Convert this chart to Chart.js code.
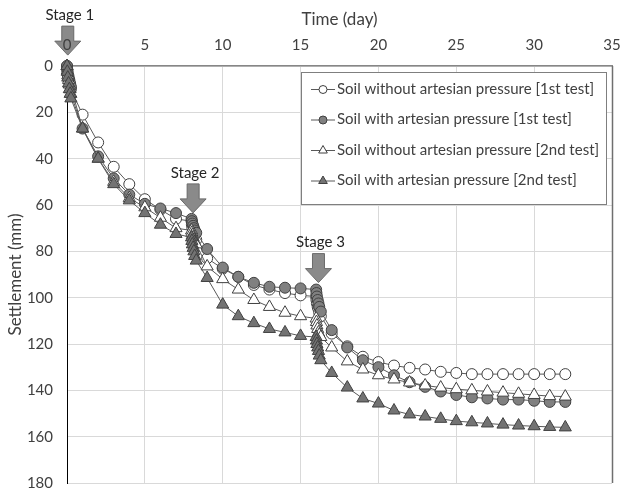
<!DOCTYPE html>
<html><head><meta charset="utf-8">
<script src="https://cdn.jsdelivr.net/npm/chart.js@4.4.1/dist/chart.umd.min.js"></script>
<style>html,body{margin:0;padding:0;background:#fff;}#wrap{width:622px;height:493px;position:relative;}</style>
</head><body><div id="wrap"><canvas id="c" width="622" height="493"></canvas></div>
<script>
const days = [0,0.02,0.05,0.1,0.15,0.2,0.25, 1,2,3,4,5,6,7, 8,8.02,8.05,8.1,8.15,8.2,8.3, 9,10,11,12,13,14,15, 16,16.02,16.05,16.1,16.15,16.2,16.3, 17,18,19,20,21,22,23,24,25,26,27,28,29,30,31,32];
const withoutArtesian1 = [0,2,4,5.5,7,8.5,10, 21,33,43.5,51,57.5,62,66, 67,68.5,70,71.5,73,74,75, 83,87.5,91,94.5,96.5,98,99, 99.5,101,102.5,104,105,106.5,108, 115.5,121,125.5,127.8,129.3,130.3,131,132,132.5,133,133,133,133,133,133,133];
const withArtesian1 = [0,1.5,3,4.5,6,7.5,9, 27,39,48.5,55.5,59.5,61.5,63.5, 66,67,68,69,70,71,72, 79,87,91,93.6,95.3,95.7,96, 96.5,98,99.5,101,102.5,104,106, 114,121.5,127,130,133.5,136.5,138.5,140.5,142,143,143.5,144,144,144.5,145,145];
const withoutArtesian2 = [0,2,4,6,8,10,12, 27,40,50,57,61,65.5,70, 71,72,73,74,75,76,77, 86.5,92,96.5,101,104,106.5,108, 109,110.5,112,113.5,115,116,117, 121.5,127.5,131,133.5,135.3,136.6,137.9,138.8,139.5,140,140.5,141,141.5,142,142.5,142.7];
const withArtesian2 = [0,2.5,5,7.5,10,12,14, 27,40,51,58,63.5,68.5,72.5, 74,75.5,77,78.5,80,82,84, 91.5,103,108,111,113.5,115,116.5, 117,118.5,120,121.5,123,125,127, 132.5,138.8,143.5,145.7,148.7,150.4,151.3,152.3,153.3,153.8,154.3,154.8,155.2,155.5,155.8,156];
const seriesLabels = ['Soil without artesian pressure [1st test]','Soil with artesian pressure [1st test]','Soil without artesian pressure [2nd test]','Soil with artesian pressure [2nd test]'];
const stageLabels = ['Stage 1','Stage 2','Stage 3'];
const stageDays = [0.05, 8.1, 16.15];
const stageTipSettlement = [-4.7, 63.4, 93.5];
const xTitle = 'Time (day)';
const yTitle = 'Settlement (mm)';

const FONT = "Lato, 'Liberation Sans', sans-serif";
const TXT = '#404040';
Chart.defaults.font.family = FONT;
Chart.defaults.color = TXT;

function pts(vals){ return days.map((d,i)=>({x:d,y:vals[i]})); }
const styles = [
  {pointStyle:'circle', bg:'#ffffff', r:5.5},
  {pointStyle:'circle', bg:'#808080', r:5.5},
  {pointStyle:'triangle', bg:'#ffffff', r:7},
  {pointStyle:'triangle', bg:'#737373', r:7}
];
const allVals = [withoutArtesian1, withArtesian1, withoutArtesian2, withArtesian2];
const datasets = allVals.map((v,i)=>({
  label: seriesLabels[i],
  data: pts(v),
  borderColor:'#595959', borderWidth:1,
  pointStyle: styles[i].pointStyle,
  pointRadius: styles[i].r, pointHoverRadius: styles[i].r,
  pointBackgroundColor: styles[i].bg,
  pointBorderColor:'#404040', pointBorderWidth:1,
  tension:0, clip:false, order: 4-i
}));

const stagePlugin = {
  id:'stages',
  afterDatasetsDraw(chart){
    const ctx = chart.ctx, xs = chart.scales.x, ys = chart.scales.y;
    ctx.save();
    stageDays.forEach((d,i)=>{
      const cx = xs.getPixelForValue(d);
      const tip = ys.getPixelForValue(stageTipSettlement[i]);
      const top = tip - 29, headTop = tip - 14;
      ctx.beginPath();
      ctx.moveTo(cx-6, top); ctx.lineTo(cx+6, top); ctx.lineTo(cx+6, headTop);
      ctx.lineTo(cx+13, headTop); ctx.lineTo(cx, tip); ctx.lineTo(cx-13, headTop);
      ctx.lineTo(cx-6, headTop); ctx.closePath();
      ctx.fillStyle = '#8a8a8a'; ctx.fill();
      ctx.strokeStyle = '#6a6a6a'; ctx.lineWidth = 1; ctx.stroke();
      ctx.fillStyle = '#262626'; ctx.font = '15px ' + FONT;
      ctx.textAlign = 'center'; ctx.textBaseline = 'middle';
      ctx.fillText(stageLabels[i], cx + 2, top - 11);
    });
    ctx.restore();
  }
};

const framePlugin = {
  id:'frame',
  afterDraw(chart){
    const ctx = chart.ctx, a = chart.chartArea;
    ctx.save();
    ctx.strokeStyle = '#6f6f6f'; ctx.lineWidth = 1.5;
    ctx.beginPath(); ctx.moveTo(a.right+0.5, a.top); ctx.lineTo(a.right+0.5, a.bottom); ctx.stroke();
    const L = 301, T = 72, W = 305, H = 132;
    ctx.fillStyle = '#fff'; ctx.fillRect(L, T, W, H);
    ctx.strokeStyle = '#7f7f7f'; ctx.lineWidth = 1; ctx.strokeRect(L+0.5, T+0.5, W, H);
    chart.data.datasets.forEach((ds,i)=>{
      const cy = T + 17 + i*30.5;
      ctx.strokeStyle = '#595959'; ctx.lineWidth = 1;
      ctx.beginPath(); ctx.moveTo(L+10, cy+0.5); ctx.lineTo(L+34, cy+0.5); ctx.stroke();
      ctx.fillStyle = ds.pointBackgroundColor; ctx.strokeStyle = ds.pointBorderColor;
      Chart.helpers.drawPoint(ctx, {pointStyle: ds.pointStyle, radius: ds.pointStyle==='triangle'?5:4, borderWidth:1, rotation:0}, L+22, cy+0.5);
      ctx.fillStyle = TXT; ctx.font = '15px ' + FONT; ctx.textAlign='left'; ctx.textBaseline='middle';
      ctx.fillText(ds.label, L+36, cy);
    });
    ctx.restore();
  }
};

new Chart(document.getElementById('c'), {
  type:'line',
  data:{datasets},
  options:{
    responsive:false, animation:false, devicePixelRatio:1,
    layout:{padding:{left:0, top:0, right:10, bottom:10}},
    plugins:{legend:{display:false}, tooltip:{enabled:false}},
    scales:{
      x:{type:'linear', position:'top', min:0, max:35,
         ticks:{stepSize:5, padding:12, font:{size:15}, color:TXT, z:1},
         grid:{color:'#d9d9d9', drawTicks:false},
         border:{color:'#868686', width:1.5},
         title:{display:true, text:xTitle, font:{size:17}, color:TXT, padding:{top:9, bottom:0}},
         afterFit(s){ s.height = 66; s.paddingLeft = 0; s.paddingRight = 0; }
      },
      y:{type:'linear', reverse:true, min:0, max:180,
         ticks:{stepSize:20, padding:14, font:{size:15}, color:TXT},
         grid:{color:'#d9d9d9', drawTicks:false},
         border:{color:'#000', width:1},
         title:{display:true, text:yTitle, font:{size:17}, color:TXT, padding:{top:5, bottom:0}},
         afterFit(s){ s.width = 67; s.paddingTop = 0; s.paddingBottom = 0; }
      }
    }
  },
  plugins:[stagePlugin, framePlugin]
});
</script></body></html>
